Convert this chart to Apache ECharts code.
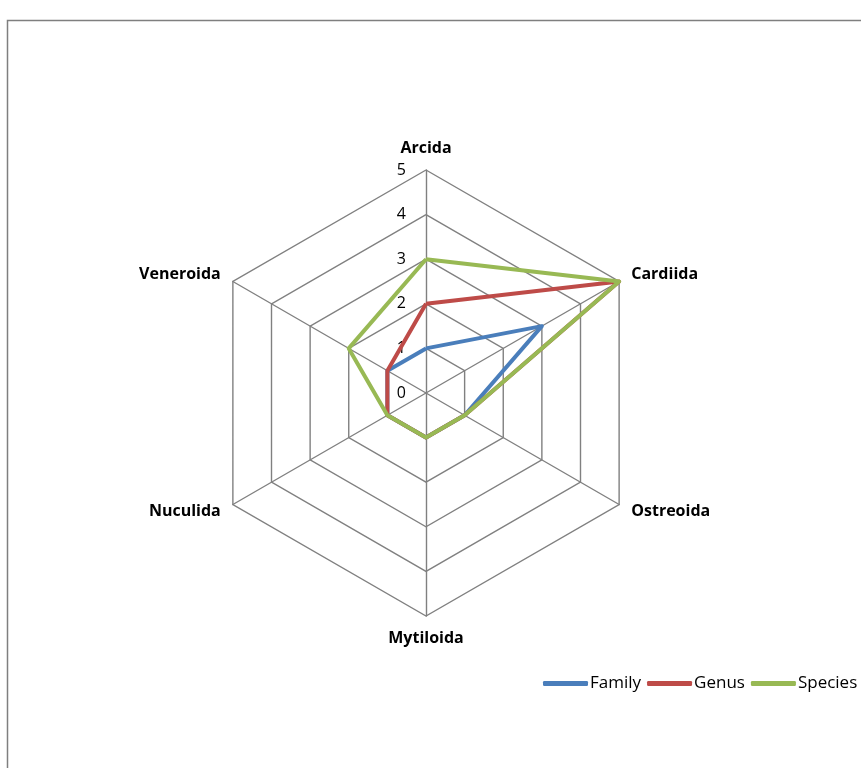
<!DOCTYPE html>
<html>
<head>
<meta charset="utf-8">
<script src="https://cdn.jsdelivr.net/npm/echarts@6/dist/echarts.min.js"></script>
<style>
  html, body { margin: 0; padding: 0; background: #fff; }
  #chart { width: 861px; height: 768px; }
</style>
</head>
<body>
<div id="chart"></div>
<script>
// Orders (radar axes), in counter-clockwise drawing order starting at the top
const orders = ['Arcida', 'Veneroida', 'Nuculida', 'Mytiloida', 'Ostreoida', 'Cardiida'];
const tickLabels = ['0', '1', '2', '3', '4', '5'];

// Taxon counts per order, same order as `orders`
const family  = [1, 1, 1, 1, 1, 3];
const genus   = [2, 1, 1, 1, 1, 5];
const species = [3, 2, 1, 1, 1, 5];

const seriesNames = ['Family', 'Genus', 'Species'];
const seriesColors = ['#4A7EBB', '#BE4B48', '#98B954'];
const seriesValues = [family, genus, species];

const gridColor = '#808080';
const axisMax = Number(tickLabels[tickLabels.length - 1]);

const chart = echarts.init(document.getElementById('chart'));

const indicator = orders.map((name, i) => {
  const ind = { name: name, min: 0, max: axisMax };
  // only the top axis carries the value labels
  ind.axisLabel = i === 0
    ? { show: true, color: '#000', fontSize: 16, fontFamily: 'Open Sans', margin: 20 }
    : { show: false };
  return ind;
});

chart.setOption({
  backgroundColor: '#fff',
  animation: false,
  graphic: [{
    type: 'rect',
    shape: { x: 7.5, y: 20.5, width: 900, height: 800 },
    style: { fill: 'none', stroke: '#7f7f7f', lineWidth: 1.5 },
    silent: true
  }],
  legend: {
    data: seriesNames,
    left: 543,
    top: 675,
    padding: 0,
    width: 330,
    itemWidth: 45,
    itemHeight: 5,
    itemGap: 6,
    icon: 'roundRect',
    textStyle: { color: '#000', fontSize: 17, fontFamily: 'Open Sans', padding: [0, 0, 0, -3] }
  },
  radar: {
    center: [426, 393],
    radius: 223,
    startAngle: 90,
    splitNumber: 5,
    shape: 'polygon',
    indicator: indicator,
    nameGap: 14,
    axisName: { color: '#000', fontSize: 16, fontWeight: 'bold', fontFamily: 'Open Sans' },
    axisLine: { lineStyle: { color: gridColor, width: 1.4 } },
    splitLine: { lineStyle: { color: gridColor, width: 1.4 } },
    splitArea: { show: false },
    axisTick: { show: false },
    axisLabel: { show: false }
  },
  series: [{
    type: 'radar',
    symbol: 'none',
    data: seriesNames.map((n, i) => ({
      name: n,
      value: seriesValues[i],
      lineStyle: { color: seriesColors[i], width: 4 },
      itemStyle: { color: seriesColors[i] }
    }))
  }]
});
</script>
</body>
</html>
